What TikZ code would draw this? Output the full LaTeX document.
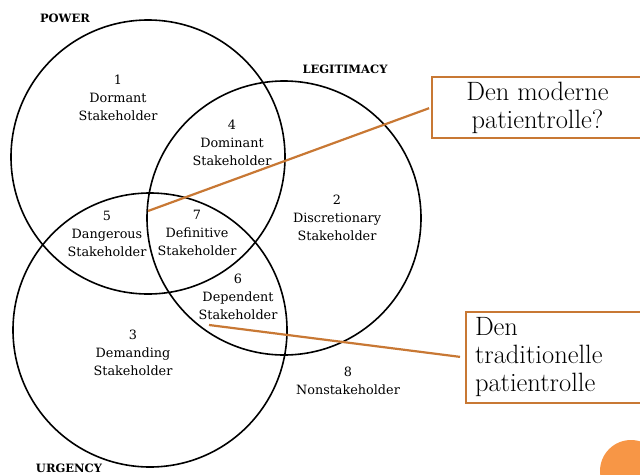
\documentclass[tikz,border=0pt]{standalone}
\usepackage{fontspec}
\newfontfamily\diag{DejaVu Serif}
\definecolor{lineor}{RGB}{200,120,52}
\definecolor{dotor}{RGB}{247,150,70}
\begin{document}
\begin{tikzpicture}[x=1pt,y=-1pt,
  ring/.style={draw=black, line width=1.6pt, circle, minimum size=274pt, inner sep=0pt},
  lbl/.style={font=\diag\fontsize{12.8}{18}\selectfont, align=center, inner sep=0pt},
  head/.style={font=\diag\bfseries\fontsize{11.5}{14}\selectfont, inner sep=0pt},
  callout/.style={draw=lineor, line width=2pt, fill=white, anchor=north west, inner sep=0pt,
    font=\fontsize{26.5}{28}\selectfont},
  link/.style={draw=lineor, line width=2.2pt}]
\useasboundingbox (0,0) rectangle (640,474);
\fill[dotor] (631,471) circle (31);
\node[ring] (power) at (148,157) {};
\node[ring] (legit) at (284,218) {};
\node[ring] (urg) at (150,330) {};
\node[head] (hpow) at (65,18) {POWER};
\node[head] (hleg) at (345,69) {LEGITIMACY};
\node[head] (hurg) at (69,468) {URGENCY};
\node[lbl] (r1) at (118,98) {1\\Dormant\\Stakeholder};
\node[lbl] (r4) at (232,143) {4\\Dominant\\Stakeholder};
\node[lbl] (r2) at (337,218) {2\\Discretionary\\Stakeholder};
\node[lbl] (r5) at (107,234) {5\\Dangerous\\Stakeholder};
\node[lbl] (r7) at (197,233) {7\\Definitive\\Stakeholder};
\node[lbl] (r6) at (238,297) {6\\Dependent\\Stakeholder};
\node[lbl] (r3) at (133,353) {3\\Demanding\\Stakeholder};
\node[lbl] (r8) at (348,381) {8\\Nonstakeholder};
\node[callout, minimum width=211pt, minimum height=61pt, align=center] (box1) at (431,76)
  {Den moderne\\patientrolle?};
\node[callout, minimum width=180pt, minimum height=91pt, text width=165pt, align=left,
  inner xsep=9pt] (box2) at (465,311) {Den\\traditionelle\\patientrolle};
\coordinate (a1) at (148,211);
\coordinate (a2) at (209,325);
\draw[link, shorten >=2pt] (a1) -- (box1.west);
\draw[link, shorten >=5pt] (a2) -- (box2.west);
\end{tikzpicture}
\end{document}
